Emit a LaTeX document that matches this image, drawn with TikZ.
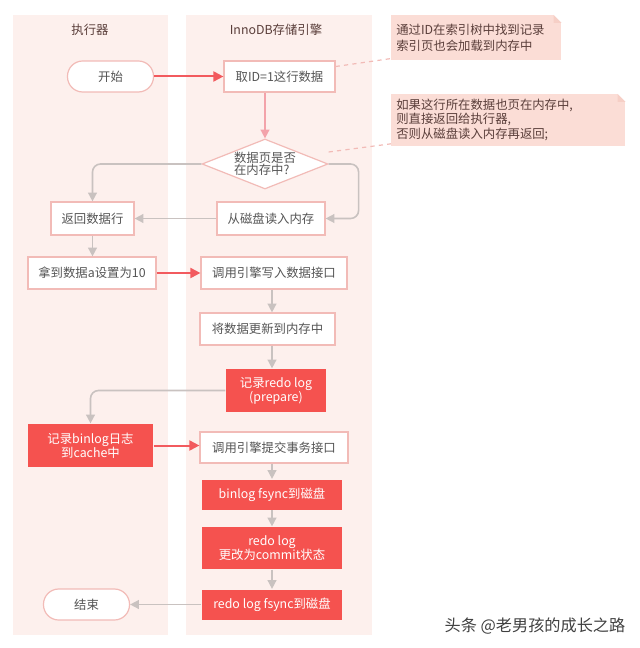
\documentclass[tikz,border=0pt]{standalone}
\usepackage{fontspec}
\setmainfont{Noto Sans CJK SC}
\usepackage{xcolor}
\usepackage{tikz}
\usetikzlibrary{arrows.meta, shapes.geometric, positioning, calc}

\definecolor{lanebg}{HTML}{FDF0ED}
\definecolor{boxline}{HTML}{F2BBB7}
\definecolor{hotred}{HTML}{F5524F}
\definecolor{redline}{HTML}{F25A5E}
\definecolor{pinkline}{HTML}{F3A3AA}
\definecolor{linegray}{HTML}{C9C2C0}
\definecolor{notebg}{HTML}{FBDDD6}
\definecolor{notefold}{HTML}{F6CFC6}
\definecolor{txtgray}{HTML}{555555}
\definecolor{headtxt}{HTML}{5A3E3A}

\begin{document}
\begin{tikzpicture}[x=0.25mm, y=-0.25mm,
  box/.style={rectangle, draw=boxline, fill=white, line width=0.3mm,
    text=txtgray, align=center, font=\fontsize{8.8}{9.8}\selectfont,
    inner sep=1pt, minimum height=8mm},
  redbox/.style={box, draw=none, fill=hotred, text=white},
  term/.style={box, rounded corners=3.8mm, minimum height=7.75mm,
    minimum width=21.5mm},
  cond/.style={diamond, draw=boxline, fill=white, line width=0.3mm,
    text=txtgray, align=left, font=\fontsize{8.8}{8.8}\selectfont,
    inner sep=0pt, shape aspect=2.5, minimum width=31.5mm,
    minimum height=12.5mm},
  note/.style={rectangle, fill=notebg, text=headtxt, align=left,
    anchor=north west, inner sep=1.25mm, font=\fontsize{8.8}{11}\selectfont},
  head/.style={text=headtxt, font=\fontsize{8.8}{10}\selectfont},
  garr/.style={-{Triangle[length=2.2mm,width=2.2mm]}, linegray, line width=0.4mm},
  rarr/.style={-{Triangle[length=2.5mm,width=2.5mm]}, redline, line width=0.5mm},
  parr/.style={garr, pinkline},
  hint/.style={dashed, boxline, line width=0.3mm}
]
\useasboundingbox (0,0) rectangle (640,648);

%% swim lanes
\fill[lanebg] (13,15) rectangle (168,635);
\fill[lanebg] (186,15) rectangle (372,635);
\node[head] (exechead) at (90,30) {执行器};
\node[head] (innohead) at (276,30) {InnoDB存储引擎};

%% executor column
\node[term] (start) at (110.5,76.5) {开始};
\node[box, minimum width=20.75mm, minimum height=8.25mm] (back) at (92.5,218.5) {返回数据行};
\node[box, minimum width=32mm] (setval) at (92,273) {拿到数据a设置为10};
\node[redbox, minimum width=31.25mm, minimum height=10.75mm] (bincache) at (90.5,445.5) {记录binlog日志\\到cache中};
\node[term] (finish) at (86.5,604.5) {结束};

%% engine column
\node[box, minimum width=27.75mm, minimum height=7.75mm] (fetch) at (279.5,76.5) {取ID=1这行数据};
\node[cond] (check) at (265,164) {数据页是否\\在内存中?};
\node[box, minimum width=27mm, minimum height=8.25mm] (disk) at (271,218.5) {从磁盘读入内存};
\node[box, minimum width=36.5mm] (write) at (274,273) {调用引擎写入数据接口};
\node[box, minimum width=33.75mm] (update) at (267.5,329) {将数据更新到内存中};
\node[redbox, minimum width=25mm, minimum height=10.75mm] (prepare) at (276,390.5) {记录redo log\\(prepare)};
\node[box, minimum width=37mm, minimum height=7.75mm] (commit) at (274,447.5) {调用引擎提交事务接口};
\node[redbox, minimum width=35mm, minimum height=7.5mm] (binsync) at (272,494.5) {binlog fsync到磁盘};
\node[redbox, minimum width=35mm, minimum height=10.5mm] (redocommit) at (272,548) {redo log\\更改为commit状态};
\node[redbox, minimum width=35mm, minimum height=7.5mm] (redosync) at (272,604.5) {redo log fsync到磁盘};

%% notes
\node[note, text width=40mm, minimum height=11.25mm] (note1) at (391,15)
  {通过ID在索引树中找到记录\\索引页也会加载到内存中};
\node[note, text width=56mm, minimum height=12mm,
  font=\fontsize{8.8}{8.6}\selectfont] (note2) at (391,94)
  {如果这行所在数据也页在内存中,\\则直接返回给执行器,\\否则从磁盘读入内存再返回;};
\fill[white] (note1.north east) -- ++(-8,0) -- ++(8,8) -- cycle;
\fill[notefold] ($(note1.north east)+(-8,0)$) -- ++(0,8) -- ++(8,0) -- cycle;
\fill[white] (note2.north east) -- ++(-8,0) -- ++(8,8) -- cycle;
\fill[notefold] ($(note2.north east)+(-8,0)$) -- ++(0,8) -- ++(8,0) -- cycle;
\draw[hint] ([yshift=2.5mm]fetch.east) -- ([yshift=0.5mm]note1.south west);
\draw[hint] ([yshift=3mm]check.east) -- ([yshift=0.5mm]note2.south west);

%% read path
\draw[rarr] (start) -- (fetch);
\draw[parr] (fetch.south -| check.north) -- (check.north);
\draw[garr, rounded corners=2mm] (check.west) -| (back.north);
\draw[garr, rounded corners=2mm] (check.east) -- ++(30,0) |- (disk.east);
\draw[garr] (disk) -- (back);
\draw[garr] (back.south) -- (back.south |- setval.north);

%% write path
\draw[rarr] (setval) -- (write);
\draw[garr] (write.south -| binsync) -- (update.north -| binsync);
\draw[garr] (update.south -| binsync) -- (prepare.north -| binsync);
\draw[garr, rounded corners=2mm] (prepare.west) -| (bincache.north);
\draw[rarr] (bincache.east) -- (bincache.east -| commit.west);
\draw[garr] (commit.south -| binsync) -- (binsync);
\draw[garr] (binsync) -- (redocommit);
\draw[garr] (redocommit) -- (redosync);
\draw[garr] (redosync) -- (finish);

%% watermark
\node[text=black!75, font=\fontsize{11.5}{12}\selectfont] (mark) at (535,626) {头条 @老男孩的成长之路};
\end{tikzpicture}
\end{document}
